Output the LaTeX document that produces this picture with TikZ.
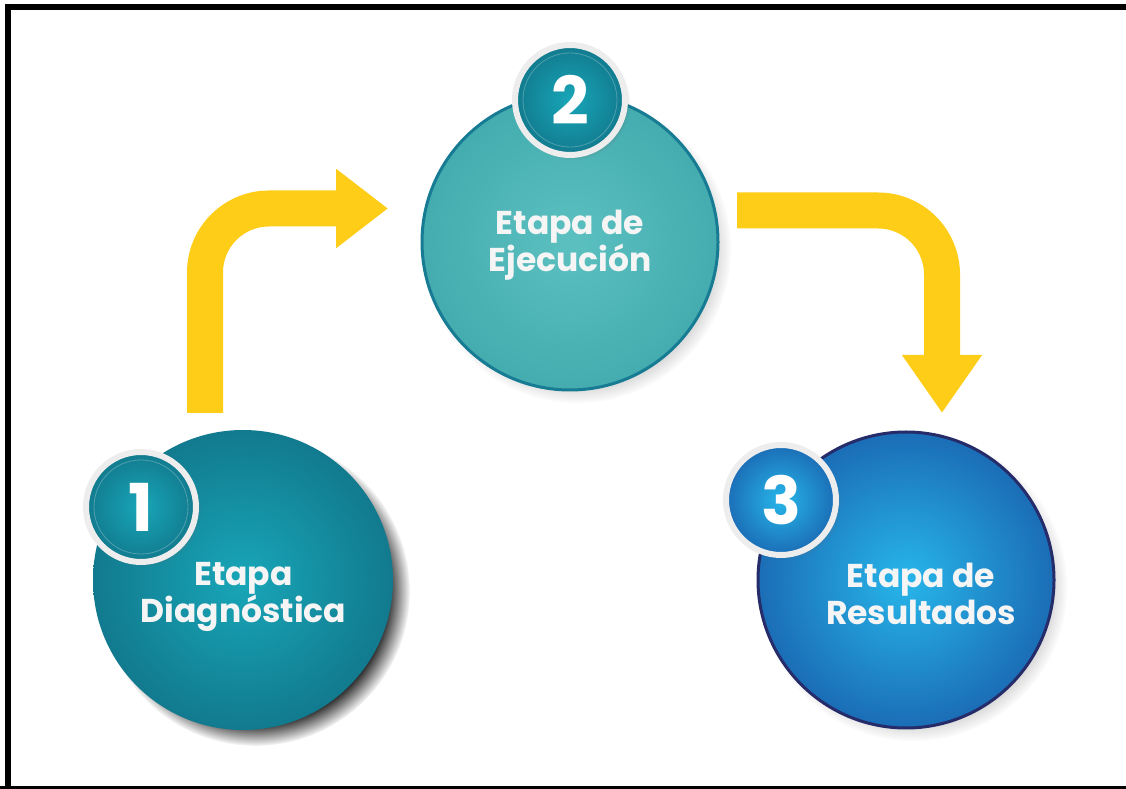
\documentclass[tikz,border=0pt]{standalone}
\usepackage{fontspec}
\newfontfamily\pop{Poppins}
\usetikzlibrary{shadows,arrows.meta,fadings}
\definecolor{ylw}{RGB}{253,205,24}
\definecolor{tealin}{HTML}{18A6B8}
\definecolor{tealout}{HTML}{127A8E}
\definecolor{aquain}{HTML}{5CC0C0}
\definecolor{aquaout}{HTML}{44ACAF}
\definecolor{aquabd}{HTML}{177B93}
\definecolor{bluein}{HTML}{27B6EA}
\definecolor{blueout}{HTML}{1B6DB6}
\definecolor{navybd}{HTML}{252C69}
\definecolor{txtw}{HTML}{F5F5F5}
\definecolor{ringc}{HTML}{EDEDED}
\begin{document}
\begin{tikzpicture}[x=1pt,y=1pt,
  bigc/.style={circle, minimum size=300pt, inner sep=0pt, outer sep=0pt},
  numc/.style={circle, minimum size=110pt, inner sep=0pt, draw=ringc, line width=6pt,
    circular drop shadow={shadow xshift=3pt, shadow yshift=-3pt, shadow scale=1.04, opacity=0.35, fill=black!60},
    text=white, font=\pop\bfseries\fontsize{66}{66}\selectfont},
  lbl/.style={align=center, text=txtw, font=\pop\bfseries\fontsize{33}{37}\selectfont, inner sep=0pt},
  yarrow/.style={draw=ylw, line width=36pt, rounded corners=64pt}
]
\useasboundingbox (0,0) rectangle (1126,789);
\fill[white] (0,0) rectangle (1126,789);
% frame
\draw[line width=6pt] (8,-5) -- (8,782) -- (1140,782);
\draw[line width=3pt] (0,1.5) -- (1140,1.5);

% big circles
\node[bigc, inner color=tealin, outer color=tealout,
  circular drop shadow={shadow xshift=12pt, shadow yshift=-11pt, shadow scale=1.03, opacity=1, fill=black!85}]
  (c1) at (243,209) {};
\node[bigc, minimum size=296pt, inner color=aquain, outer color=aquaout, draw=aquabd, line width=3pt,
  circular drop shadow={shadow xshift=7pt, shadow yshift=-7pt, shadow scale=1.04, opacity=0.35, fill=black!60}]
  (c2) at (570,547) {};
\node[bigc, minimum size=296pt, inner color=bluein, outer color=blueout, draw=navybd, line width=3pt,
  circular drop shadow={shadow xshift=7pt, shadow yshift=-7pt, shadow scale=1.04, opacity=0.35, fill=black!60}]
  (c3) at (906,209) {};

% arrows
\coordinate (a1s) at (205,376);
\coordinate (a1e) at (388,580.5);
\coordinate (a2s) at (737,578.5);
\coordinate (a2e) at (942,376);
\draw[yarrow, -{Triangle[length=52pt,width=76pt]}] (a1s) |- (a1e);
\draw[yarrow, -{Triangle[length=58pt,width=76pt]}] (a2s) -| (a2e);

% labels
\node[lbl] (t1) at (243.5,192) {Etapa\\Diagnóstica};
\node[lbl] (t2) at (570,543.5) {Etapa de\\Ejecución};
\node[lbl] (t3) at (921,195) {Etapa de\\Resultados};

% number circles
\node[numc, inner color=tealin, outer color=tealout,
  path picture={\draw[white, opacity=0.25, line width=0.8pt] (path picture bounding box.center) circle (47pt);}]
  (n1) at (141,282) {1};
\node[numc, inner color=tealin, outer color=tealout,
  path picture={\draw[white, opacity=0.25, line width=0.8pt] (path picture bounding box.center) circle (47pt);}]
  (n2) at (570,689) {2};
\node[numc, inner color=bluein, outer color=blueout]
  (n3) at (781,289) {3};
\end{tikzpicture}
\end{document}
